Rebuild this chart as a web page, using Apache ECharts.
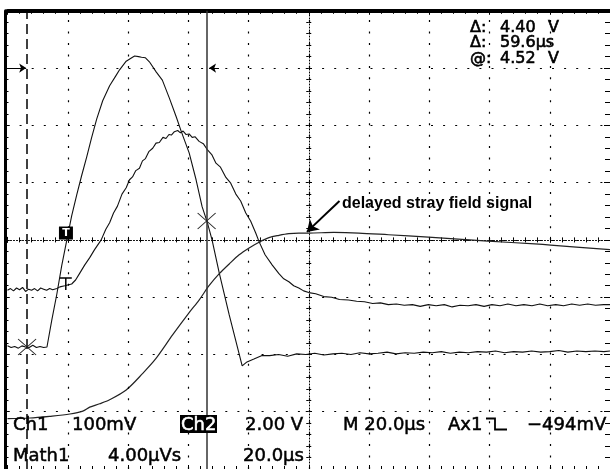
<!DOCTYPE html>
<html><head><meta charset="utf-8">
<script src="https://cdn.jsdelivr.net/npm/echarts@6/dist/echarts.min.js"></script>
<style>html,body{margin:0;padding:0;background:#fff;}#c{width:610px;height:469px;}</style>
</head><body><div id="c"></div>
<script>
// Horizontal: time in µs (20 µs/div, 10 div). Vertical: screen divisions (-4..4).
const ch2Time = [0,1.2,2.4,3.6,4.8,6.0,7.2,8.4,9.6,10.8,12.0,13.1,
  14.7,16.4,18.0,19.7,21.3,23.0,24.6,26.3,27.9,29.6,
  31.6,33.9,35.9,37.2,39.4,41.5,42.2,42.8,43.5,44.5,
  45.8,47.1,49.4,51.4,53.7,56.0,57.7,60.3,62.6,64.6,
  66.3,67.9,70.3,73.6,77.9,79.5,81.8,84.5,
  87,90,93,96,99,102,105,108,111,114,117,120,123,126,129,132,135,138,141,144,
  147,150,153,156,159,162,165,168,171,174,177,180,183,186,189,192,195,198,200];
const ch2Div = [-1.85,-1.88,-1.86,-1.89,-1.85,-1.87,-1.88,-1.84,-1.88,-1.86,-1.88,-1.87,
  -1.40,-0.94,-0.45,0.00,0.42,0.79,1.12,1.45,1.78,2.11,
  2.43,2.69,2.86,2.97,3.12,3.19,3.21,3.22,3.20,3.19,
  3.18,3.11,2.93,2.79,2.48,2.15,1.89,1.52,1.05,0.58,
  0.31,0.00,-0.58,-1.31,-2.20,-2.13,-2.08,-2.02,
  -2.02,-2.00,-2.03,-1.99,-2.00,-1.98,-2.01,-1.99,-1.98,-2.00,-1.97,-1.99,-1.98,-1.96,-1.99,-1.97,-1.98,-1.96,-1.97,-1.95,
  -1.98,-1.96,-1.97,-1.95,-1.96,-1.94,-1.97,-1.95,-1.96,-1.94,-1.96,-1.95,-1.93,-1.96,-1.94,-1.95,-1.94,-1.95,-1.94];

const ch1Time = [0,1,2,3,4,5,6,7,8,9,10,11,12,13,14,15,16.4,
  17.4,19.0,21.3,22.6,24.0,25.6,27.3,28.9,31.1,32.6,33.9,35.2,36.5,38.0,39.4,40.5,41.5,42.6,43.8,44.8,
  45.8,46.9,48.2,49.3,50.4,51.6,52.6,53.6,54.4,55.4,56.5,57.4,58.3,59.3,60.3,61.3,62.3,63.6,65.0,66.4,
  67.8,69.2,70.7,72.5,74.1,75.8,77.4,79.1,80.7,82.4,83.5,85.5,87.9,90.1,91.7,93.4,95.0,96.7,98.3,100.0,
  102.3,105.0,107.6,110.2,113.2,115.9,118.5,121.2,123.8,126.4,129.1,131.7,134.4,137.0,139.7,142.3,145.0,147.6,
  150.2,152.9,155.5,158.2,160.8,163.5,166.1,168.8,171.4,174.1,176.7,179.3,182.0,184.6,187.3,189.9,192.6,195.2,197.9,200];
const ch1Div = [-0.88,-0.85,-0.89,-0.84,-0.87,-0.83,-0.90,-0.86,-0.88,-0.85,-0.89,-0.84,-0.86,-0.88,-0.85,-0.87,-0.85,
  -0.82,-0.80,-0.77,-0.70,-0.58,-0.44,-0.31,-0.17,0.00,0.18,0.30,0.47,0.59,0.80,0.91,1.05,1.10,1.21,1.25,1.38,
  1.42,1.54,1.60,1.69,1.70,1.79,1.77,1.84,1.83,1.89,1.91,1.87,1.90,1.84,1.85,1.79,1.80,1.72,1.68,1.57,
  1.49,1.34,1.27,1.09,0.99,0.80,0.68,0.47,0.33,0.12,-0.03,-0.26,-0.44,-0.59,-0.68,-0.73,-0.80,-0.84,-0.89,-0.92,
  -0.94,-0.99,-1.00,-1.04,-1.05,-1.07,-1.08,-1.11,-1.10,-1.13,-1.12,-1.14,-1.13,-1.16,-1.13,-1.15,-1.13,-1.17,
  -1.14,-1.15,-1.13,-1.16,-1.13,-1.15,-1.12,-1.15,-1.13,-1.15,-1.12,-1.15,-1.13,-1.15,-1.12,-1.14,-1.12,-1.14,-1.13,-1.13];

const mathTime = [0,7.4,14.0,20.7,25.0,27.3,30.6,33.9,39.4,44.9,49.3,54.8,60.3,63.6,66.9,70.3,73.6,76.9,80.2,83.5,86.8,90.1,93.4,96.7,100.0,108.3,116.6,126.5,139.7,159.5,175.0,180.3,200];
const mathDiv = [-3.12,-3.11,-3.08,-3.04,-2.99,-2.92,-2.86,-2.79,-2.62,-2.33,-2.07,-1.66,-1.27,-1.05,-0.80,-0.59,-0.42,-0.26,-0.14,-0.04,0.04,0.08,0.11,0.12,0.12,0.13,0.12,0.09,0.05,-0.02,-0.07,-0.09,-0.17];

const gridTimes = [20, 40, 60, 80, 100, 120, 140, 160, 180];
const cursorTimes = [6.5, 66.1];
const cursorLevels = [-1.87, 0.33];
const triggerMark = [19.4, 0.12];
const levelMark = [19.35, -0.77];
const arrowLevel = 3;
const calloutFrom = [110.2, 0.68];
const calloutTo = [99.4, 0.14];
const calloutText = 'delayed stray field signal';
const readoutLabels = ['Δ:', 'Δ:', '@:'];
const readoutValues = ['4.40', '59.6µs', '4.52'];
const readoutUnits = ['V', '', 'V'];
const statusRow1 = ['Ch1', '100mV', 'Ch2', '2.00 V', 'M 20.0µs', 'Ax1', '−494mV'];
const statusRow2 = ['Math1', '4.00µVs', '20.0µs'];

const zip = (a, b) => a.map((t, i) => [t, b[i]]);
const BLK = '#000';
const xPath = 'path://M0,0L18,16M18,0L0,16';

const chart = echarts.init(document.getElementById('c'), null, {renderer: 'canvas'});

const hiddenLbl = {show: false};
function centerX(inside, lineShow) {
  return {type: 'value', min: 0, max: 200, interval: 20, position: 'bottom',
    axisLine: {show: true, onZero: true, onZeroAxisIndex: 0, lineStyle: {color: BLK, width: 1, type: [1, 2], opacity: lineShow ? 1 : 0}},
    axisTick: {show: true, inside: inside, length: 3, lineStyle: {color: BLK}},
    minorTick: {show: true, splitNumber: 5, length: 2.5, lineStyle: {color: BLK}},
    axisLabel: hiddenLbl, splitLine: {show: false}};
}
function centerY(inside, lineShow) {
  return {type: 'value', min: -4, max: 4, interval: 1, position: 'left',
    axisLine: {show: true, onZero: true, onZeroAxisIndex: 2, lineStyle: {color: BLK, width: 1, type: [1, 2], opacity: lineShow ? 1 : 0}},
    axisTick: {show: true, inside: inside, length: 3, lineStyle: {color: BLK}},
    minorTick: {show: true, splitNumber: 5, length: 2.5, lineStyle: {color: BLK}},
    axisLabel: hiddenLbl, splitLine: {show: false}};
}

const txtFont = '18px "DejaVu Sans"';
const tStyle = (t, font, fill, sw) => ({text: t, font: font, fill: fill, stroke: sw ? fill : null, lineWidth: sw || 0, align: 'left', verticalAlign: 'middle', textAlign: 'left', textVerticalAlign: 'middle'});
const graphics = [];
const roFont = '16px "DejaVu Sans"';
readoutLabels.forEach((t, i) => {
  const y = 27.5 + i * 15.8;
  graphics.push({type: 'text', x: 470, y: y, z: 10, style: tStyle(t, roFont, BLK, 0.6)});
  graphics.push({type: 'text', x: 500, y: y, z: 10, style: tStyle(readoutValues[i], roFont, BLK, 0.6)});
  if (readoutUnits[i]) graphics.push({type: 'text', x: 548, y: y, z: 10, style: tStyle(readoutUnits[i], roFont, BLK, 0.6)});
});
const row1X = [13, 72, 181, 245, 343, 448, 527];
statusRow1.forEach((t, i) => {
  if (i === 2) graphics.push({type: 'rect', z: 9, shape: {x: 180, y: 415, width: 37, height: 18}, style: {fill: BLK}});
  graphics.push({type: 'text', x: row1X[i], y: 425, z: 10, style: tStyle(t, txtFont, i === 2 ? '#fff' : BLK, 0.5)});
});
const row2X = [13, 108, 243];
statusRow2.forEach((t, i) => graphics.push({type: 'text', x: row2X[i], y: 456, z: 10, style: tStyle(t, txtFont, BLK, 0.5)}));
graphics.push({type: 'polyline', z: 10, shape: {points: [[486, 418.5], [495, 418.5], [495, 429.5], [507, 429.5]]}, style: {stroke: BLK, lineWidth: 1.8, fill: null}});
graphics.push({type: 'text', x: 342, y: 204, z: 10, style: tStyle(calloutText, 'bold 16px "Liberation Sans"', BLK, 0)});

const gridMarks = gridTimes.map(t => ({xAxis: t, lineStyle: {type: [2, 9.46], color: BLK, width: 1.2}}));

const option = {
  animation: false,
  backgroundColor: '#fff',
  grid: {left: 7.5, top: 10.8, width: 605, height: 458.4, containLabel: false},
  xAxis: [
    {type: 'value', min: 0, max: 200, interval: 20, position: 'top',
      axisLine: {show: true, onZero: false, lineStyle: {color: BLK, width: 4}},
      axisTick: {show: true, inside: true, length: 4, lineStyle: {color: BLK}},
      minorTick: {show: true, splitNumber: 5, length: 3, lineStyle: {color: BLK}},
      axisLabel: hiddenLbl, splitLine: {show: false}},
    centerX(true, true),
    {type: 'value', min: -100, max: 100, show: false, axisLine: {onZero: false}},
    centerX(false, false),
    {type: 'value', min: 0, max: 200, interval: 20, position: 'bottom',
      axisLine: {show: true, onZero: false, lineStyle: {color: BLK, width: 1, type: [1, 2]}},
      axisTick: {show: true, inside: true, length: 4, lineStyle: {color: BLK}},
      minorTick: {show: true, splitNumber: 5, length: 3, lineStyle: {color: BLK}},
      axisLabel: hiddenLbl, splitLine: {show: false}}
  ],
  yAxis: [
    {type: 'value', min: -4, max: 4, interval: 1, position: 'left', offset: 2,
      axisLine: {show: true, onZero: false, lineStyle: {color: BLK, width: 3}},
      axisTick: {show: true, inside: true, length: 4, lineStyle: {color: BLK}},
      minorTick: {show: true, splitNumber: 5, length: 3, lineStyle: {color: BLK}},
      axisLabel: hiddenLbl,
      splitLine: {show: true, lineStyle: {color: BLK, width: 1, type: [2, 10.1]}}},
    centerY(true, true),
    centerY(false, false),
    {type: 'value', min: -4, max: 4, interval: 1, position: 'right',
      axisLine: {show: true, onZero: false, lineStyle: {color: BLK, width: 1}},
      axisTick: {show: true, inside: true, length: 6, lineStyle: {color: BLK}},
      minorTick: {show: true, splitNumber: 5, length: 5, lineStyle: {color: BLK}},
      axisLabel: hiddenLbl, splitLine: {show: false}}
  ],
  series: [
    {name: 'Ch2', type: 'line', xAxisIndex: 0, yAxisIndex: 0, data: zip(ch2Time, ch2Div),
      showSymbol: false, lineStyle: {color: '#111', width: 1.1}, z: 3,
      markLine: {silent: true, symbol: ['none', 'none'], label: {show: false},
        lineStyle: {color: BLK, width: 1.5},
        data: gridMarks.concat([
          {xAxis: cursorTimes[0], lineStyle: {type: [10, 5], color: BLK, width: 1.5}},
          {xAxis: cursorTimes[1], lineStyle: {type: 'solid', color: '#333', width: 1.5}}
        ])},
      markPoint: {silent: true, label: {show: false},
        data: [
          {coord: [cursorTimes[0], cursorLevels[0]], symbol: xPath, symbolSize: [18, 16], itemStyle: {color: 'transparent', borderColor: '#222', borderWidth: 1}},
          {coord: [cursorTimes[1], cursorLevels[1]], symbol: xPath, symbolSize: [18, 16], itemStyle: {color: 'transparent', borderColor: '#222', borderWidth: 1}},
          {coord: triggerMark, symbol: 'rect', symbolSize: [14, 13], itemStyle: {color: BLK},
            label: {show: true, formatter: 'T', color: '#fff', fontSize: 11, fontWeight: 'bold', position: 'inside', fontFamily: 'DejaVu Sans'}}
        ]}
    },
    {name: 'Ch1', type: 'line', xAxisIndex: 0, yAxisIndex: 0, data: zip(ch1Time, ch1Div),
      showSymbol: false, lineStyle: {color: '#111', width: 1.1}, z: 3,
      markLine: {silent: true, label: {show: false}, lineStyle: {color: BLK, width: 1, type: 'solid'},
        symbol: ['none', 'arrow'], symbolSize: 7,
        data: [
          [{coord: [0, arrowLevel]}, {coord: [cursorTimes[0] - 0.3, arrowLevel]}],
          [{coord: [cursorTimes[1] + 4.1, arrowLevel]}, {coord: [cursorTimes[1] + 0.8, arrowLevel]}]
        ]},
      markPoint: {silent: true, label: {show: false},
        data: [{coord: levelMark, symbol: 'path://M0,0L12,0M6,0L6,12', symbolSize: [12, 12],
          itemStyle: {color: 'transparent', borderColor: BLK, borderWidth: 1.5}}]}
    },
    {name: 'Math1', type: 'line', xAxisIndex: 0, yAxisIndex: 0, data: zip(mathTime, mathDiv),
      showSymbol: false, smooth: 0.3, lineStyle: {color: '#222', width: 1.2}, z: 3,
      markLine: {silent: true, label: {show: false}, lineStyle: {color: BLK, width: 2, type: 'solid'},
        symbol: ['none', 'arrow'], symbolSize: 11,
        data: [[{coord: calloutFrom}, {coord: calloutTo}]]}
    }
  ],
  graphic: graphics
};
chart.setOption(option);
</script>
</body></html>
